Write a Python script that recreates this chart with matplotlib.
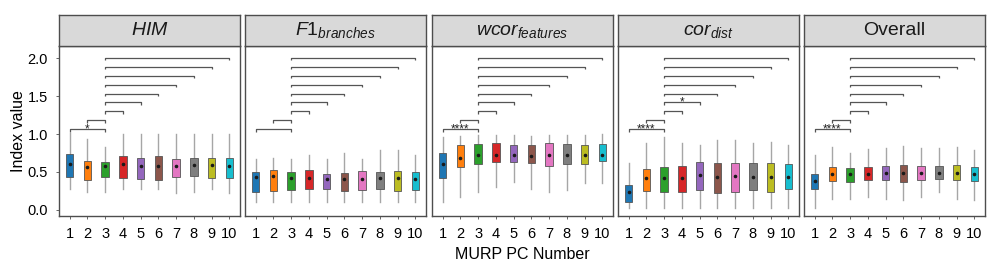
import matplotlib
matplotlib.use("Agg")
import matplotlib.pyplot as plt

plt.rcParams['font.family'] = ['Liberation Sans', 'DejaVu Sans']
plt.rcParams['mathtext.fontset'] = 'custom'
plt.rcParams['mathtext.it'] = 'Liberation Sans:italic'
plt.rcParams['mathtext.rm'] = 'Liberation Sans'

# ---------------- data ----------------
pcs = [1, 2, 3, 4, 5, 6, 7, 8, 9, 10]
colors = ['#1f77b4', '#ff7f0e', '#2ca02c', '#d62728', '#9467bd',
          '#8c564b', '#e377c2', '#7f7f7f', '#bcbd22', '#17becf']

titles = [r'$\mathit{HIM}$', r'$\mathit{F1}_{\mathit{branches}}$',
          r'$\mathit{wcor}_{\mathit{features}}$', r'$\mathit{cor}_{\mathit{dist}}$',
          'Overall']

him_lo  = [0.27, 0.23, 0.23, 0.27, 0.27, 0.27, 0.22, 0.23, 0.27, 0.22]
him_q1  = [0.43, 0.40, 0.44, 0.425, 0.41, 0.40, 0.43, 0.45, 0.425, 0.415]
him_med = [0.61, 0.57, 0.58, 0.60, 0.58, 0.58, 0.58, 0.59, 0.59, 0.58]
him_q3  = [0.74, 0.645, 0.635, 0.71, 0.69, 0.71, 0.67, 0.685, 0.68, 0.68]
him_hi  = [1.01, 0.94, 0.83, 1.00, 1.00, 1.00, 1.00, 1.00, 1.00, 1.00]

f1_lo  = [0.10, 0.11, 0.11, 0.11, 0.11, 0.10, 0.11, 0.11, 0.11, 0.11]
f1_q1  = [0.23, 0.25, 0.26, 0.28, 0.28, 0.25, 0.26, 0.27, 0.255, 0.26]
f1_med = [0.44, 0.45, 0.42, 0.42, 0.41, 0.41, 0.41, 0.42, 0.42, 0.41]
f1_q3  = [0.50, 0.52, 0.50, 0.53, 0.47, 0.49, 0.51, 0.50, 0.51, 0.50]
f1_hi  = [0.675, 0.69, 0.675, 0.73, 0.67, 0.75, 0.675, 0.79, 0.79, 0.73]

wcor_lo  = [0.10, 0.175, 0.23, 0.30, 0.37, 0.27, 0.24, 0.26, 0.35, 0.35]
wcor_q1  = [0.425, 0.56, 0.605, 0.63, 0.63, 0.615, 0.585, 0.605, 0.61, 0.65]
wcor_med = [0.605, 0.68, 0.72, 0.72, 0.73, 0.71, 0.73, 0.72, 0.72, 0.73]
wcor_q3  = [0.755, 0.85, 0.865, 0.885, 0.86, 0.85, 0.88, 0.87, 0.85, 0.87]
wcor_hi  = [0.96, 0.98, 0.99, 0.99, 0.99, 0.98, 0.99, 0.99, 0.99, 1.00]

cord_lo  = [0.02, 0.02, 0.02, 0.02, 0.02, 0.02, 0.02, 0.02, 0.02, 0.02]
cord_q1  = [0.10, 0.255, 0.23, 0.23, 0.26, 0.22, 0.24, 0.26, 0.24, 0.27]
cord_med = [0.23, 0.42, 0.42, 0.42, 0.455, 0.435, 0.45, 0.43, 0.44, 0.44]
cord_q3  = [0.325, 0.545, 0.57, 0.575, 0.635, 0.615, 0.62, 0.615, 0.615, 0.60]
cord_hi  = [0.62, 0.88, 0.96, 0.88, 0.86, 0.92, 0.92, 0.88, 0.90, 0.85]

ovr_lo  = [0.02, 0.14, 0.15, 0.165, 0.145, 0.13, 0.165, 0.23, 0.145, 0.13]
ovr_q1  = [0.28, 0.38, 0.37, 0.39, 0.40, 0.37, 0.39, 0.41, 0.395, 0.385]
ovr_med = [0.38, 0.48, 0.48, 0.48, 0.49, 0.49, 0.49, 0.49, 0.49, 0.48]
ovr_q3  = [0.47, 0.56, 0.55, 0.56, 0.585, 0.59, 0.58, 0.58, 0.59, 0.565]
ovr_hi  = [0.73, 0.83, 0.745, 0.80, 0.82, 0.84, 0.82, 0.81, 0.83, 0.785]

comparisons = [(1, 3), (2, 3), (3, 4), (3, 5), (3, 6), (3, 7), (3, 8), (3, 9), (3, 10)]
him_sig  = ['*', '', '', '', '', '', '', '', '']
f1_sig   = ['', '', '', '', '', '', '', '', '']
wcor_sig = ['****', '', '', '', '', '', '', '', '']
cord_sig = ['****', '', '', '*', '', '', '', '', '']
ovr_sig  = ['****', '', '', '', '', '', '', '', '']

panels = [
    (him_lo, him_q1, him_med, him_q3, him_hi, him_sig),
    (f1_lo, f1_q1, f1_med, f1_q3, f1_hi, f1_sig),
    (wcor_lo, wcor_q1, wcor_med, wcor_q3, wcor_hi, wcor_sig),
    (cord_lo, cord_q1, cord_med, cord_q3, cord_hi, cord_sig),
    (ovr_lo, ovr_q1, ovr_med, ovr_q3, ovr_hi, ovr_sig),
]

# ---------------- layout ----------------
W, H = 1000, 269
fig = plt.figure(figsize=(W / 100, H / 100), dpi=100)
lefts = [59, 245, 432, 618, 804]
pw = 181
top_plot, bot_plot = 46, 216
strip_top = 15
border = '#4d4d4d'

bracket_y0, bracket_step, tip = 1.062, 0.118, 0.03

for i, (lo, q1, med, q3, hi, sig) in enumerate(panels):
    ax = fig.add_axes([lefts[i] / W, 1 - bot_plot / H, pw / W, (bot_plot - top_plot) / H])
    stats = [dict(whislo=lo[k], q1=q1[k], med=med[k], q3=q3[k], whishi=hi[k], fliers=[])
             for k in range(len(pcs))]
    bp = ax.bxp(stats, positions=pcs, widths=0.42, patch_artist=True, showcaps=False,
                showfliers=False,
                whiskerprops=dict(color='#a6a6a6', linewidth=1.0),
                medianprops=dict(linewidth=0),
                boxprops=dict(linewidth=0.6, edgecolor='#555555'))
    for patch, c in zip(bp['boxes'], colors):
        patch.set_facecolor(c)
        patch.set_zorder(3)
    ax.scatter(pcs, med, s=2.5, color='#1a1a1a', zorder=4)

    for j, ((a, b), lab) in enumerate(zip(comparisons, sig)):
        y = bracket_y0 + j * bracket_step
        ax.plot([a, a, b, b], [y - tip, y, y, y - tip], color='#555555', lw=0.9,
                solid_capstyle='butt', zorder=2)
        if lab:
            ax.text((a + b) / 2, y - 0.035, lab, ha='center', va='baseline',
                    fontsize=8.5, color='#222222')

    ax.set_xlim(0.4, 10.6)
    ax.set_ylim(-0.08, 2.16)
    ax.set_xticks(pcs)
    ax.set_xticklabels([str(p) for p in pcs], fontsize=10.5)
    ax.set_yticks([0.0, 0.5, 1.0, 1.5, 2.0])
    if i == 0:
        ax.set_yticklabels(['0.0', '0.5', '1.0', '1.5', '2.0'], fontsize=10.5)
        ax.set_ylabel('Index value', fontsize=11.5, labelpad=1)
    else:
        ax.set_yticklabels([])
    ax.tick_params(axis='both', length=2, width=0.6, color=border, pad=6)
    if i != 0:
        ax.tick_params(axis='y', length=0)
    for s in ax.spines.values():
        s.set_color(border)
        s.set_linewidth(1.0)
    if i == 2:
        ax.set_xlabel('MURP PC Number', fontsize=11.5, labelpad=4)

    sax = fig.add_axes([lefts[i] / W, 1 - top_plot / H, pw / W, (top_plot - strip_top) / H])
    sax.set_facecolor('#d9d9d9')
    sax.set_xticks([])
    sax.set_yticks([])
    for s in sax.spines.values():
        s.set_color(border)
        s.set_linewidth(1.0)
    sax.text(0.5, 0.5, titles[i], ha='center', va='center', fontsize=14,
             color='#1a1a1a', transform=sax.transAxes)

fig.savefig('out.png', dpi=100)
